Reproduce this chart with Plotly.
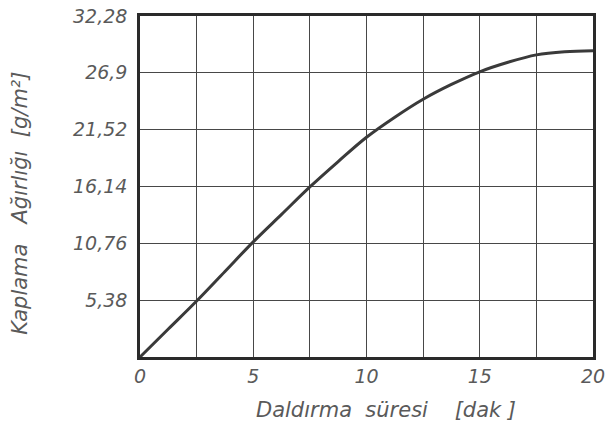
import plotly.graph_objects as go

# Data
dip_time = [0, 1.25, 2.5, 3.75, 5, 6.25, 7.5, 8.75, 10, 11.25, 12.5, 13.75, 15, 16.25, 17.5, 18.75, 20]
coating_weight = [0, 2.65, 5.3, 8.1, 10.9, 13.5, 16.1, 18.5, 20.8, 22.7, 24.4, 25.8, 27.0, 27.9, 28.6, 28.9, 29.0]

x_tickvals = [0, 2.5, 5, 7.5, 10, 12.5, 15, 17.5, 20]
x_ticktext = ["0", "", "5", "", "10", "", "15", "", "20"]
y_tickvals = [0, 5.38, 10.76, 16.14, 21.52, 26.9, 32.28]
y_ticktext = ["", "5,38", "10,76", "16,14", "21,52", "26,9", "32,28"]

x_title = "Daldırma  süresi    [dak ]"
y_title = "Kaplama   Ağırlığı  [g/m²]"

font_fam = "DejaVu Sans, Liberation Sans, sans-serif"
txt_col = "#5a5a5a"

fig = go.Figure()
fig.add_trace(go.Scatter(
    x=dip_time, y=coating_weight, mode="lines",
    line=dict(color="#3a3a3a", width=3, shape="spline", smoothing=1.0),
    showlegend=False, hoverinfo="skip",
))

title_font = dict(size=21, color=txt_col, family=font_fam, style="italic")

fig.update_layout(
    width=606, height=431,
    margin=dict(l=140, r=13, t=16, b=74),
    paper_bgcolor="white", plot_bgcolor="white",
    font=dict(family=font_fam, color=txt_col, size=18, style="italic"),
    xaxis=dict(
        range=[0, 20], tickvals=x_tickvals, ticktext=x_ticktext,
        showgrid=True, gridcolor="#474747", gridwidth=1.2,
        showline=True, linecolor="#2a2a2a", linewidth=2.5, mirror=True,
        zeroline=False, ticks="", ticklen=0, automargin=False,
        tickfont=dict(size=19, color=txt_col, family=font_fam, style="italic"),
    ),
    yaxis=dict(
        range=[0, 32.28], tickvals=y_tickvals, ticktext=y_ticktext,
        showgrid=True, gridcolor="#474747", gridwidth=1.2,
        showline=True, linecolor="#2a2a2a", linewidth=2.5, mirror=True,
        zeroline=False, ticks="", ticklen=0, ticklabelstandoff=6, automargin=False,
        tickfont=dict(size=19, color=txt_col, family=font_fam, style="italic"),
    ),
    annotations=[
        dict(text=x_title, xref="paper", yref="paper", x=0.543, y=-0.155,
             xanchor="center", yanchor="middle", showarrow=False, font=title_font),
        dict(text=y_title, xref="paper", yref="paper", x=-0.265, y=0.452,
             xanchor="center", yanchor="middle", textangle=-90, showarrow=False,
             font=title_font),
    ],
)

fig.write_html("out.html")
